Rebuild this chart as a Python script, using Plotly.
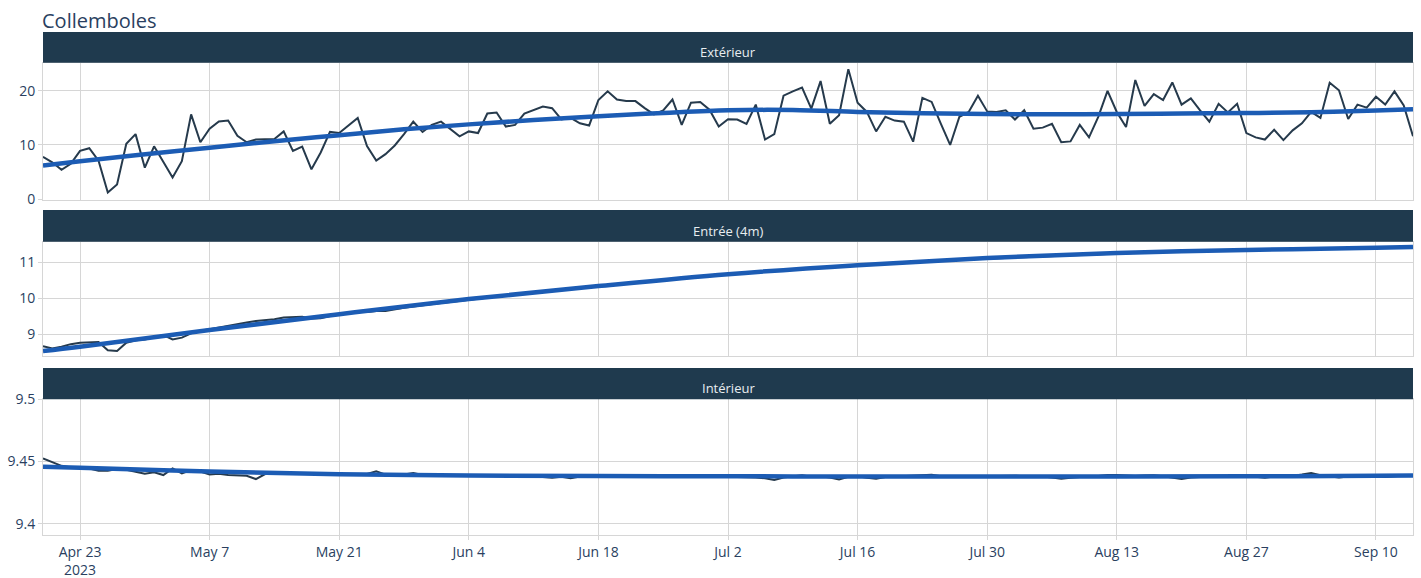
import plotly.graph_objects as go
from plotly.subplots import make_subplots
import pandas as pd

# ---------------- data ----------------
dates = pd.date_range("2023-04-19", "2023-09-14", freq="D")

panel_titles = ["Extérieur", "Entrée (4m)", "Intérieur"]

exterieur = [
    7.8, 6.8, 5.4, 6.5, 8.9, 9.4, 7.1, 1.2, 2.7, 10.2,
    12.0, 5.8, 9.75, 6.9, 4.0, 7.0, 15.65, 10.5, 13.0, 14.35,
    14.5, 11.7, 10.5, 11.0, 11.1, 11.1, 12.5, 8.9, 9.7, 5.5,
    8.6, 12.4, 12.2, 13.6, 15.0, 9.8, 7.1, 8.3, 9.9, 12.0,
    14.3, 12.4, 13.7, 14.3, 13.0, 11.6, 12.5, 12.2, 15.8, 16.0,
    13.4, 13.7, 15.8, 16.4, 17.1, 16.8, 14.7, 15.0, 14.0, 13.6,
    18.3, 19.9, 18.4, 18.1, 18.1, 16.8, 15.65, 16.4, 18.4, 13.7,
    17.8, 17.95, 16.5, 13.4, 14.75, 14.7, 13.9, 17.45, 11.0, 12.0,
    19.1, 19.9, 20.6, 16.7, 21.8, 13.9, 15.5, 24.0, 17.8, 16.1,
    12.5, 15.2, 14.5, 14.3, 10.6, 18.7, 17.95, 13.9, 10.0, 15.2,
    16.1, 19.1, 16.2, 16.1, 16.4, 14.7, 16.4, 13.0, 13.2, 13.9,
    10.5, 10.65, 13.7, 11.4, 15.2, 20.0, 16.1, 13.3, 22.0, 17.2,
    19.4, 18.3, 21.55, 17.45, 18.6, 16.4, 14.3, 17.6, 16.0, 17.6,
    12.2, 11.4, 11.0, 12.8, 10.9, 12.7, 14.0, 16.1, 15.0, 21.5,
    20.1, 14.8, 17.45, 16.9, 18.9, 17.45, 19.9, 17.3, 11.6,
]

entree = [
    8.675, 8.61, 8.66, 8.73, 8.77, 8.79, 8.79, 8.56, 8.54, 8.77,
    8.84, 8.86, 8.91, 8.98, 8.86, 8.91, 9.03, 9.10, 9.14, 9.19,
    9.25, 9.30, 9.33, 9.37, 9.39, 9.42, 9.47, 9.49, 9.49, 9.44,
    9.45, 9.51, 9.55, 9.59, 9.62, 9.62, 9.65, 9.65, 9.70, 9.74,
    9.77, 9.81, 9.84, 9.87, 9.90, 9.93, 9.97, 10.00, 10.02, 10.05,
    10.08, 10.10, 10.13, 10.16, 10.18, 10.21, 10.23, 10.26, 10.29, 10.31,
    10.34, 10.36, 10.39, 10.41, 10.44, 10.46, 10.48, 10.51, 10.53, 10.56,
    10.58, 10.60, 10.63, 10.65, 10.67, 10.69, 10.71, 10.73, 10.74, 10.76,
    10.78, 10.80, 10.82, 10.83, 10.85, 10.87, 10.89, 10.91, 10.92, 10.94,
    10.95, 10.96, 10.98, 10.99, 11.01, 11.02, 11.04, 11.05, 11.06, 11.08,
    11.09, 11.11, 11.12, 11.13, 11.14, 11.15, 11.16, 11.17, 11.18, 11.19,
    11.20, 11.21, 11.22, 11.23, 11.24, 11.25, 11.26, 11.27, 11.27, 11.28,
    11.28, 11.29, 11.30, 11.30, 11.31, 11.31, 11.32, 11.33, 11.33, 11.34,
    11.34, 11.35, 11.35, 11.35, 11.36, 11.36, 11.37, 11.37, 11.37, 11.38,
    11.38, 11.39, 11.39, 11.39, 11.40, 11.40, 11.41, 11.41, 11.42,
]

interieur = [
    9.4524, 9.4497, 9.4465, 9.4452, 9.4449, 9.4444, 9.4425, 9.4425, 9.4440, 9.4434,
    9.4418, 9.4402, 9.4413, 9.4391, 9.4444, 9.4404, 9.4431, 9.4420, 9.4396, 9.4402,
    9.4391, 9.4391, 9.4386, 9.4359, 9.4399, 9.4410, 9.4408, 9.4407, 9.4405, 9.4404,
    9.4400, 9.4400, 9.4398, 9.4397, 9.4398, 9.4400, 9.4422, 9.4395, 9.4394, 9.4396,
    9.4408, 9.4392, 9.4393, 9.4392, 9.4390, 9.4391, 9.4389, 9.4392, 9.4386, 9.4384,
    9.4385, 9.4383, 9.4386, 9.4384, 9.4376, 9.4370, 9.4378, 9.4366, 9.4380, 9.4383,
    9.4384, 9.4383, 9.4385, 9.4382, 9.4383, 9.4381, 9.4384, 9.4382, 9.4380, 9.4383,
    9.4381, 9.4379, 9.4382, 9.4380, 9.4383, 9.4381, 9.4378, 9.4372, 9.4365, 9.4352,
    9.4372, 9.4379, 9.4390, 9.4378, 9.4381, 9.4372, 9.4355, 9.4378, 9.4381, 9.4370,
    9.4362, 9.4376, 9.4380, 9.4383, 9.4386, 9.4391, 9.4394, 9.4382, 9.4379, 9.4381,
    9.4380, 9.4382, 9.4383, 9.4381, 9.4384, 9.4386, 9.4382, 9.4381, 9.4380, 9.4372,
    9.4362, 9.4370, 9.4378, 9.4381, 9.4383, 9.4392, 9.4391, 9.4385, 9.4383, 9.4388,
    9.4390, 9.4381, 9.4368, 9.4360, 9.4372, 9.4378, 9.4380, 9.4381, 9.4382, 9.4378,
    9.4381, 9.4378, 9.4370, 9.4380, 9.4383, 9.4384, 9.4395, 9.4408, 9.4390, 9.4382,
    9.4372, 9.4380, 9.4384, 9.4383, 9.4380, 9.4376, 9.4382, 9.4390, 9.4392,
]

# smoothed trend curves (read at a few days)
ext_trend_days = [0, 4, 10, 18, 25, 32, 39, 46, 53, 60, 67, 74, 81, 88, 95, 102,
                  109, 116, 123, 130, 137, 144, 148]
ext_trend = [6.2, 7.0, 8.1, 9.5, 10.7, 11.8, 12.9, 13.8, 14.6, 15.3, 15.9, 16.4,
             16.45, 16.1, 15.85, 15.7, 15.65, 15.7, 15.8, 15.9, 16.05, 16.35, 16.6]

trend_days = [0, 4, 18, 32, 46, 60, 74, 88, 102, 116, 130, 144, 148]
ent_trend = [8.54, 8.66, 9.12, 9.56, 9.98, 10.34, 10.67, 10.92, 11.12, 11.26,
             11.34, 11.40, 11.42]
int_trend = [9.4457, 9.4449, 9.4420, 9.4398, 9.4388, 9.4383, 9.4381, 9.4380,
             9.4380, 9.4380, 9.4381, 9.4385, 9.4388]

y_ranges = [[-0.1, 25.2], [8.41, 11.57], [9.391, 9.5]]
y_dticks = [10, 1, 0.05]

# ---------------- styling ----------------
DATA_COLOR = "#263a4c"
TREND_COLOR = "#1c5cb4"
HEADER_COLOR = "#1f3a4e"
GRID = "#d6d6d6"
TEXT = "#2a3f5f"
FONT = "Open Sans"

plot_domains = [[0.6668, 0.9390], [0.3565, 0.5831], [0.0, 0.2700]]
header_domains = [[0.9390, 1.0], [0.5831, 0.6461], [0.2700, 0.3320]]

fig = make_subplots(rows=3, cols=1, shared_xaxes=True)

series = [exterieur, entree, interieur]
trends = [(ext_trend_days, ext_trend), (trend_days, ent_trend), (trend_days, int_trend)]

for r in range(3):
    fig.add_trace(go.Scatter(x=dates, y=series[r], mode="lines",
                             line=dict(color=DATA_COLOR, width=2),
                             showlegend=False, hoverinfo="x+y"), row=r + 1, col=1)
    td, tv = trends[r]
    fig.add_trace(go.Scatter(x=dates[td], y=tv, mode="lines",
                             line=dict(color=TREND_COLOR, width=4.5, shape="spline"),
                             showlegend=False), row=r + 1, col=1)

for r in range(3):
    sfx = "" if r == 0 else str(r + 1)
    fig.layout["yaxis" + sfx].update(
        domain=plot_domains[r], range=y_ranges[r], dtick=y_dticks[r],
        showgrid=True, gridcolor=GRID, zeroline=False,
        showline=True, linecolor=GRID, mirror=True,
        ticks="outside", ticklen=4, tickcolor=GRID,
        tickfont=dict(size=14, color=TEXT, family=FONT),
    )
    fig.layout["xaxis" + sfx].update(
        range=["2023-04-19", "2023-09-14"],
        tick0="2023-04-23", dtick=14 * 86400000,
        showgrid=True, gridcolor=GRID, zeroline=False,
        showline=True, linecolor=GRID, mirror=True,
        ticks="outside" if r == 2 else "", ticklen=4, tickcolor=GRID,
        tickfont=dict(size=14, color=TEXT, family=FONT),
    )
    fig.add_shape(type="rect", xref="paper", yref="paper",
                  x0=0, x1=1, y0=header_domains[r][0], y1=header_domains[r][1],
                  fillcolor=HEADER_COLOR, line=dict(width=0), layer="above")
    fig.add_annotation(text=panel_titles[r], xref="paper", yref="paper",
                       x=0.5, y=plot_domains[r][1], xanchor="center", yanchor="bottom",
                       showarrow=False,
                       font=dict(size=13, color="#e8edf0", family=FONT))

fig.update_layout(
    width=1421, height=586,
    margin=dict(l=42, r=7, t=32, b=51),
    paper_bgcolor="white", plot_bgcolor="white",
    font=dict(family=FONT, color=TEXT),
    title=dict(text="Collemboles", x=42 / 1421, xanchor="left", xref="container",
               y=1 - 20.5 / 586, yanchor="middle",
               font=dict(size=20, color=TEXT, family=FONT)),
    showlegend=False,
)

fig.write_html("out.html")
